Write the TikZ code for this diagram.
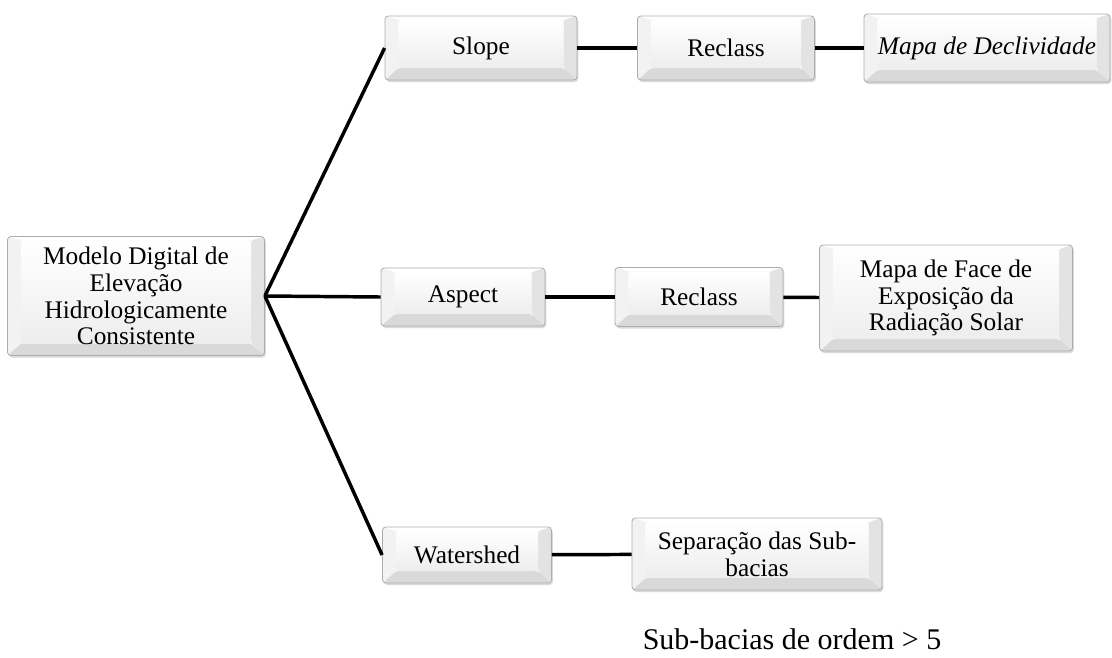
\documentclass[tikz,border=0pt]{standalone}
\usepackage{fontspec}
\setmainfont{Liberation Serif}
\usetikzlibrary{shadows}

\begin{document}
\begin{tikzpicture}[x=0.75pt, y=-0.75pt,
  caixa/.style={rectangle, rounded corners=2.5pt, draw=gray!65, line width=0.6pt,
    fill=gray!8, inner sep=2pt, align=center,
    font=\fontsize{19}{20}\selectfont,
    drop shadow={shadow xshift=1pt, shadow yshift=-1.5pt, opacity=.3},
    path picture={
      \coordinate (sw) at (path picture bounding box.south west);
      \coordinate (ne) at (path picture bounding box.north east);
      \coordinate (nw) at (sw |- ne);
      \coordinate (se) at (ne |- sw);
      \fill[white] (nw) -- (ne) -- ([shift={(-10pt,-3pt)}]ne) -- ([shift={(10pt,-3pt)}]nw) -- cycle;
      \fill[gray!30] (sw) -- (se) -- ([shift={(-10pt,9pt)}]se) -- ([shift={(10pt,9pt)}]sw) -- cycle;
      \fill[gray!10] (sw) -- (nw) -- ([shift={(10pt,-3pt)}]nw) -- ([shift={(10pt,9pt)}]sw) -- cycle;
      \fill[gray!22] (se) -- (ne) -- ([shift={(-10pt,-3pt)}]ne) -- ([shift={(-10pt,9pt)}]se) -- cycle;
      \shade[top color=white, bottom color=gray!14]
        ([shift={(10pt,9pt)}]sw) rectangle ([shift={(-10pt,-3pt)}]ne);
    }},
  link/.style={line width=2.6pt, black}]

\useasboundingbox (0,0) rectangle (1112,657);

% Boxes
\node[caixa, minimum width=192.75pt, minimum height=89.25pt] (mde) at (136,296)
  {Modelo Digital de\\Elevação\\Hidrologicamente\\Consistente};

\node[caixa, minimum width=144pt, minimum height=48pt] (slope) at (481,48) {Slope};
\node[caixa, minimum width=132.75pt, minimum height=48pt] (recl1) at (726,48) {Reclass};
\node[caixa, minimum width=184.5pt, minimum height=51pt] (decl) at (987,48) {\itshape Mapa de Declividade};

\node[caixa, minimum width=123pt, minimum height=43.5pt] (aspect) at (463,297) {Aspect};
\node[caixa, minimum width=126pt, minimum height=44.25pt] (recl2) at (699,297) {Reclass};
\node[caixa, minimum width=189.75pt, minimum height=79.5pt] (face) at (946,298)
  {Mapa de Face de\\Exposição da\\Radiação Solar};

\node[caixa, minimum width=126.75pt, minimum height=42pt] (water) at (467,555) {Watershed};
\node[caixa, minimum width=187.5pt, minimum height=54pt] (sep) at (757,554)
  {Separação das Sub-\\bacias};

% Note
\node[anchor=base, font=\fontsize{22.5}{27}\selectfont, inner sep=0pt] (nota) at (792,649)
  {Sub-bacias de ordem > 5};

% Branches
\draw[link] (mde.east) -- (slope.west);
\draw[link] (mde.east) -- (aspect.west);
\draw[link] (mde.east) -- (water.west);

% Chains
\draw[link] (slope) -- (recl1);
\draw[link] (recl1) -- (decl);
\draw[link] (aspect) -- (recl2);
\draw[link] (recl2) -- (face);
\draw[link] (water) -- (sep);

\end{tikzpicture}
\end{document}
